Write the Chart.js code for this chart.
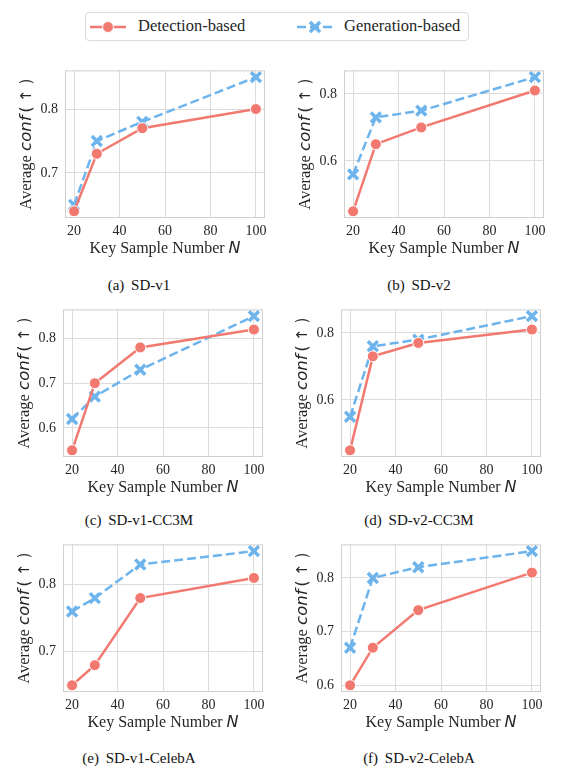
<!DOCTYPE html>
<html lang="en">
<head>
    <meta charset="UTF-8">
    <title>Average conf vs Key Sample Number</title>
    <script src="https://cdn.jsdelivr.net/npm/chart.js"></script>
    <style>
        body { margin: 0; background: #fff; }
        #fig { position: relative; width: 565px; height: 776px; overflow: hidden; font-family: "Liberation Serif", serif; }
        canvas { position: absolute; }
        .legend { position: absolute; left: 85px; top: 12px; width: 384px; height: 29px; border: 1px solid #dcdcdc; border-radius: 4px; box-sizing: border-box; }
        .legend svg { position: absolute; top: 5px; }
        .legend span { position: absolute; top: 3px; font-size: 16.5px; color: #262626; white-space: nowrap; }
        .cap { position: absolute; width: 240px; margin-left: -120px; text-align: center; font-size: 15px; color: #111; word-spacing: 3px; line-height: 18px; }
        .warm { position: absolute; left: -999px; top: 0; }
    </style>
</head>
<body>
<div id="fig">
    <div class="legend">
        <svg width="40" height="18" style="left:3px">
            <line x1="1" y1="9" x2="37" y2="9" stroke="#F27970" stroke-width="2.5"/>
            <circle cx="19" cy="9" r="5.5" fill="#F27970" stroke="#fff" stroke-width="1"/>
        </svg>
        <span style="left:52px">Detection-based</span>
        <svg width="40" height="18" style="left:210px">
            <line x1="1" y1="9" x2="36" y2="9" stroke="#6DB3EC" stroke-width="2.5" stroke-dasharray="9 4"/>
            <path d="M14 4 L24 14 M24 4 L14 14" stroke="#6DB3EC" stroke-width="3.5"/>
        </svg>
        <span style="left:258px">Generation-based</span>
    </div>
    <div class="cap" style="left:139px; top:276px">(a) SD-v1</div>
    <div class="cap" style="left:419px; top:276px">(b) SD-v2</div>
    <div class="cap" style="left:139px; top:511px">(c) SD-v1-CC3M</div>
    <div class="cap" style="left:419px; top:511px">(d) SD-v2-CC3M</div>
    <div class="cap" style="left:139px; top:749px">(e) SD-v1-CelebA</div>
    <div class="cap" style="left:419px; top:749px">(f) SD-v2-CelebA</div>
    <span class="warm" style="font-family:'Liberation Serif'">0.8</span>
    <span class="warm" style="font-family:'DejaVu Sans'; font-style:italic">N</span>
</div>

<script>
    // key sample numbers N and x tick labels
    const nValues = [20, 30, 50, 100];
    const xTicks = [20, 40, 60, 80, 100];

    // average conf
    const detSDv1 = [0.64, 0.73, 0.77, 0.80];
    const genSDv1 = [0.65, 0.75, 0.78, 0.85];
    const detSDv2 = [0.45, 0.65, 0.70, 0.81];
    const genSDv2 = [0.56, 0.73, 0.75, 0.85];
    const detV1CC3M = [0.55, 0.70, 0.78, 0.82];
    const genV1CC3M = [0.62, 0.67, 0.73, 0.85];
    const detV2CC3M = [0.45, 0.73, 0.77, 0.81];
    const genV2CC3M = [0.55, 0.76, 0.78, 0.85];
    const detV1CelebA = [0.65, 0.68, 0.78, 0.81];
    const genV1CelebA = [0.76, 0.78, 0.83, 0.85];
    const detV2CelebA = [0.60, 0.67, 0.74, 0.81];
    const genV2CelebA = [0.67, 0.80, 0.82, 0.85];

    // y tick labels per panel
    const yTicksA = [0.7, 0.8];
    const yTicksB = [0.6, 0.8];
    const yTicksC = [0.6, 0.7, 0.8];
    const yTicksD = [0.6, 0.8];
    const yTicksE = [0.7, 0.8];
    const yTicksF = [0.6, 0.7, 0.8];

    const DET = '#F27970';
    const GEN = '#6DB3EC';
    const SERIF = "'Liberation Serif'";
    const SANS = "'DejaVu Sans'";

    const xTitle = [
        { t: 'Key Sample Number ', f: '16px ' + SERIF },
        { t: 'N', f: 'italic 16px ' + SANS }
    ];
    const yTitle = [
        { t: 'Average ', f: '16.5px ' + SERIF },
        { t: 'conf', f: 'italic 16.5px ' + SANS },
        { t: '\u2009( \u2191 )', f: '15px ' + SANS }
    ];

    function drawParts(ctx, parts, cx, cy, rot) {
        let total = 0;
        parts.forEach(p => { ctx.font = p.f; p.w = ctx.measureText(p.t).width; total += p.w; });
        ctx.save();
        ctx.translate(cx, cy);
        ctx.rotate(rot);
        ctx.fillStyle = '#262626';
        ctx.textBaseline = 'middle';
        ctx.textAlign = 'left';
        let x = -total / 2;
        parts.forEach(p => { ctx.font = p.f; ctx.fillText(p.t, x, 0); x += p.w; });
        ctx.restore();
    }

    // box around the plot area (seaborn whitegrid) and the mixed-font axis titles
    const framePlugin = {
        id: 'frame',
        beforeDatasetsDraw(chart) {
            const { ctx, chartArea: a } = chart;
            ctx.save();
            ctx.strokeStyle = '#cfcfcf';
            ctx.lineWidth = 1;
            ctx.strokeRect(a.left + 0.5, a.top + 0.5, a.width - 1, a.height - 1);
            ctx.restore();
        },
        afterDraw(chart) {
            const { ctx, chartArea: a } = chart;
            drawParts(ctx, xTitle, (a.left + a.right) / 2, a.bottom + 31, 0);
            drawParts(ctx, yTitle, a.left - 38, (a.top + a.bottom) / 2, -Math.PI / 2);
        }
    };

    function makePanel(left, top, det, gen, yTicks) {
        const canvas = document.createElement('canvas');
        canvas.width = 275;
        canvas.height = 208;
        canvas.style.left = left + 'px';
        canvas.style.top = top + 'px';
        document.getElementById('fig').appendChild(canvas);

        const all = det.concat(gen);
        const lo = Math.min(...all), hi = Math.max(...all);
        const pad = (hi - lo) * 0.05;

        new Chart(canvas.getContext('2d'), {
            type: 'line',
            data: {
                datasets: [{
                    label: 'Detection-based',
                    data: nValues.map((n, i) => ({ x: n, y: det[i] })),
                    borderColor: DET,
                    borderWidth: 2.5,
                    pointStyle: 'circle',
                    pointRadius: 5.5,
                    pointBackgroundColor: DET,
                    pointBorderColor: '#fff',
                    pointBorderWidth: 1,
                    clip: false
                }, {
                    label: 'Generation-based',
                    data: nValues.map((n, i) => ({ x: n, y: gen[i] })),
                    borderColor: GEN,
                    borderWidth: 2.5,
                    borderDash: [9, 4],
                    pointStyle: 'crossRot',
                    pointRadius: 7,
                    pointBackgroundColor: GEN,
                    pointBorderColor: GEN,
                    pointBorderWidth: 3.5,
                    clip: false
                }]
            },
            options: {
                responsive: false,
                animation: false,
                layout: { padding: { top: 8, right: 15, left: 0, bottom: 0 } },
                plugins: { legend: { display: false }, tooltip: { enabled: false } },
                scales: {
                    x: {
                        type: 'linear',
                        min: 16,
                        max: 104,
                        afterBuildTicks: s => { s.ticks = xTicks.map(v => ({ value: v })); },
                        afterFit: s => { s.height = 45; },
                        grid: { color: '#dcdcdc', drawTicks: false },
                        border: { display: false },
                        ticks: { padding: 5, color: '#262626', font: { family: SERIF, size: 14 } }
                    },
                    y: {
                        min: lo - pad,
                        max: hi + pad,
                        afterBuildTicks: s => { s.ticks = yTicks.map(v => ({ value: v })); },
                        afterFit: s => { s.width = 60; },
                        grid: { color: '#dcdcdc', drawTicks: false },
                        border: { display: false },
                        ticks: {
                            padding: 7,
                            color: '#262626',
                            font: { family: SERIF, size: 14 },
                            callback: v => v.toFixed(1)
                        }
                    }
                }
            },
            plugins: [framePlugin]
        });
    }

    function drawAll() {
        makePanel(5, 55, detSDv1, genSDv1, yTicksA);
        makePanel(284, 55, detSDv2, genSDv2, yTicksB);
        makePanel(3, 294, detV1CC3M, genV1CC3M, yTicksC);
        makePanel(281, 294, detV2CC3M, genV2CC3M, yTicksD);
        makePanel(3, 529, detV1CelebA, genV1CelebA, yTicksE);
        makePanel(281, 529, detV2CelebA, genV2CelebA, yTicksF);
    }

    if (document.fonts && document.fonts.load) {
        Promise.all([
            document.fonts.load("14px 'Liberation Serif'"),
            document.fonts.load("italic 16px 'DejaVu Sans'")
        ]).then(drawAll, drawAll);
    } else {
        drawAll();
    }
</script>
</body>
</html>
